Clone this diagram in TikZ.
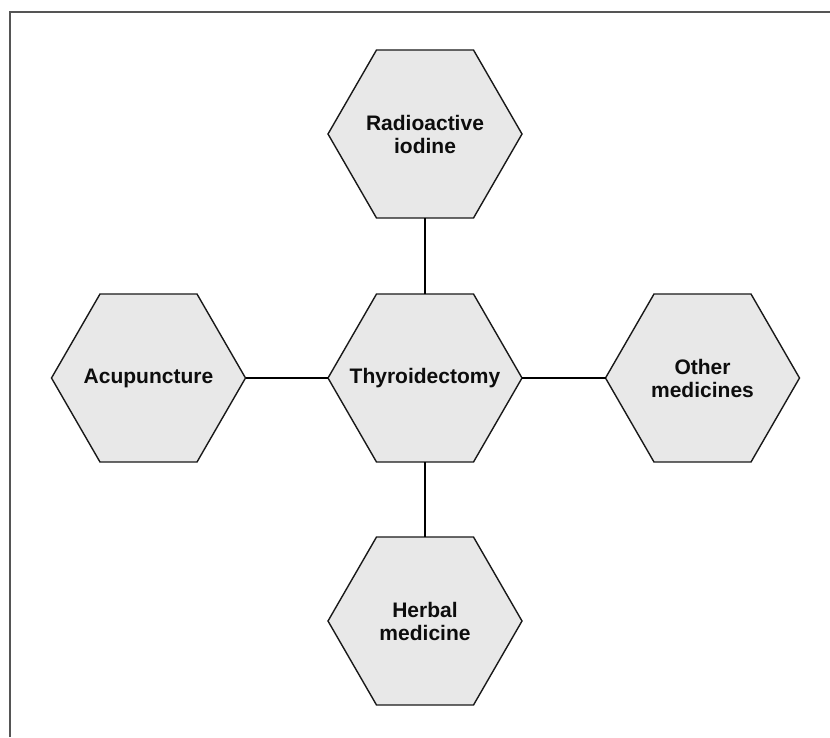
\documentclass[tikz,border=0pt]{standalone}
\usepackage{fontspec}
\setmainfont{Liberation Sans}
\usetikzlibrary{shapes.geometric}
\definecolor{hexfill}{HTML}{E8E8E8}
\definecolor{framegray}{HTML}{555555}
\tikzset{
  hexa/.style={regular polygon, regular polygon sides=6, minimum size=194pt,
    inner sep=0pt, outer sep=0pt, draw=black!90, line width=1.4pt, fill=hexfill},
  hextext/.style={align=center, font=\bfseries\fontsize{21}{23}\selectfont, text=black!95},
  link/.style={draw=black, line width=1.2pt}
}
\begin{document}
\begin{tikzpicture}[x=1pt,y=-1pt]
\useasboundingbox (0,0) rectangle (830,737);
\coordinate (fb) at (9.5,737);
\coordinate (fc) at (9.5,12);
\coordinate (fr) at (830,12);
\draw[framegray, line width=2pt] (fb) -- (fc) -- (fr);

\node[hexa] (c) at (425,378) {};
\node[hexa] (t) at (425,134) {};
\node[hexa] (b) at (425,621) {};
\node[hexa] (l) at (148.5,378) {};
\node[hexa] (r) at (702.5,378) {};

\draw[link] (c.north) -- (t.south);
\draw[link] (c.south) -- (b.north);
\draw[link] (c.west) -- (l.east);
\draw[link] (c.east) -- (r.west);

\node[hextext] (ct) at (c) {Thyroidectomy};
\node[hextext] (tt) at (t) {Radioactive\\iodine};
\node[hextext] (bt) at (b) {Herbal\\medicine};
\node[hextext] (lt) at (l) {Acupuncture};
\node[hextext] (rt) at (r) {Other\\medicines};
\end{tikzpicture}
\end{document}
